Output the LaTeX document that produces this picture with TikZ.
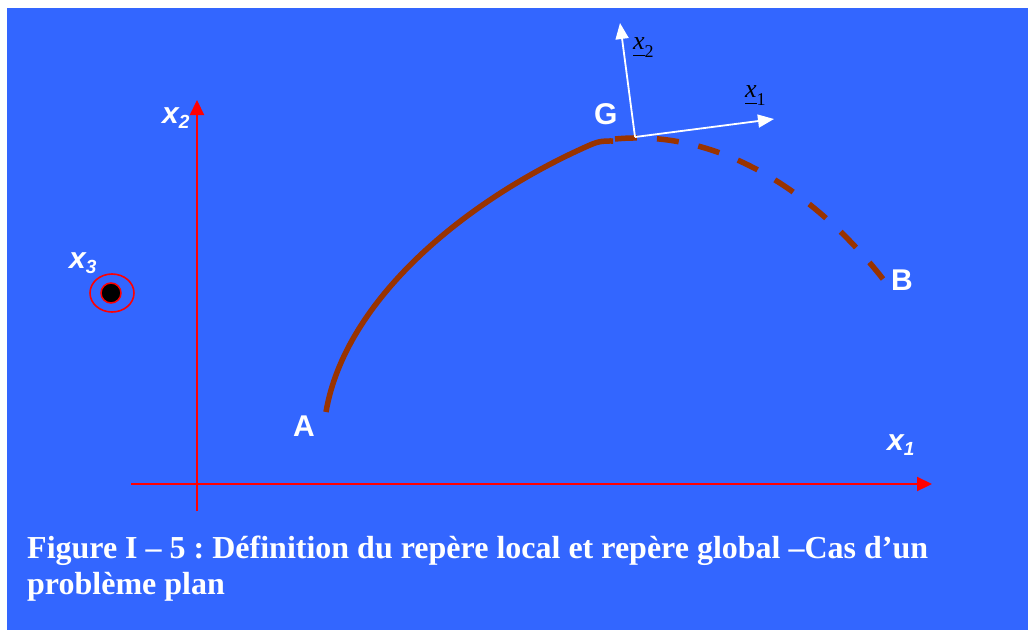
\documentclass[tikz,border=0pt]{standalone}
\usepackage{fontspec}
\setmainfont{Liberation Serif}
\newfontfamily\labfont{Liberation Sans}
\usetikzlibrary{arrows.meta}
\definecolor{bgblue}{RGB}{51,102,255}
\definecolor{curvebrown}{RGB}{153,51,0}
\newcommand\ulx[1]{\setbox0\hbox{#1}\rlap{\rule[-7pt]{\wd0}{1.3pt}}\box0}
\frenchspacing
\tikzset{
  redaxis/.style={draw=red, line width=2.2pt, -{Triangle[length=15pt,width=14pt]}},
  whitearrow/.style={draw=white, line width=1.8pt, -{Triangle[length=16pt,width=13pt]}},
  curveline/.style={draw=curvebrown, line width=5.5pt},
  axlab/.style={text=white, inner sep=0pt, anchor=base west, font=\labfont\bfseries\itshape\fontsize{30}{30}\selectfont},
  ptlab/.style={text=white, inner sep=0pt, anchor=base west, font=\labfont\bfseries\fontsize{30}{30}\selectfont},
  loclab/.style={text=black, inner sep=0pt, anchor=base west},
  caption/.style={text=white, inner sep=0pt, anchor=base west, font=\bfseries\fontsize{32}{36}\selectfont}
}
\begin{document}
\begin{tikzpicture}[x=1pt,y=-1pt]
\useasboundingbox (0,0) rectangle (1028,630);
\fill[white] (0,0) rectangle (1028,630);
\fill[bgblue] (7,8) rectangle (1028,630);

% global axes
\coordinate (V0) at (197,511);
\coordinate (V1) at (197,100);
\coordinate (H0) at (131,484);
\coordinate (H1) at (932,484);
\draw[redaxis] (V0) -- (V1);
\draw[redaxis] (H0) -- (H1);

\node[axlab] (lx2) at (162,123) {x\raisebox{-5pt}{\fontsize{19}{19}\selectfont 2}};
\node[axlab] (lx1) at (887,450) {x\raisebox{-5pt}{\fontsize{19}{19}\selectfont 1}};
\node[axlab] (lx3) at (69,268) {x\raisebox{-5pt}{\fontsize{19}{19}\selectfont 3}};

% x3 axis (out of plane)
\draw[red, line width=1.6pt] (112,293) ellipse [x radius=22, y radius=19];
\filldraw[fill=black, draw=red, line width=1.5pt] (111,293) circle [radius=10];

% trajectory
\coordinate (PA) at (326,412);
\coordinate (PK) at (590,145);
\coordinate (PG) at (613,141);
\coordinate (PD) at (615,139);
\coordinate (PB) at (883,279);
\draw[curveline] (PA) .. controls (345,300) and (465,200) .. (PK)
                      .. controls (600,140.6) and (605,141) .. (PG);
\draw[curveline, dash pattern=on 22pt off 20pt] (PD) .. controls (730,128) and (825,205) .. (PB);

\node[ptlab] (A) at (293,436) {A};
\node[ptlab] (G) at (594,124) {G};
\node[ptlab] (B) at (891,290) {B};

% local frame
\coordinate (G0) at (635,137);
\coordinate (E1) at (774,119);
\coordinate (E2) at (620,23);
\draw[whitearrow] (G0) -- (E1);
\draw[whitearrow] (G0) -- (E2);
\node[loclab] (le2) at (633,49) {{\fontsize{26}{26}\selectfont\itshape\ulx{x}}{\fontsize{18}{18}\selectfont\raisebox{-8pt}{2}}};
\node[loclab] (le1) at (745,97) {{\fontsize{26}{26}\selectfont\itshape\ulx{x}}{\fontsize{18}{18}\selectfont\raisebox{-8pt}{1}}};

% caption
\node[caption] (cap1) at (27,558) {Figure I – 5 : Définition du repère local et repère global –Cas d’un};
\node[caption] (cap2) at (27,594) {problème plan};
\end{tikzpicture}
\end{document}
